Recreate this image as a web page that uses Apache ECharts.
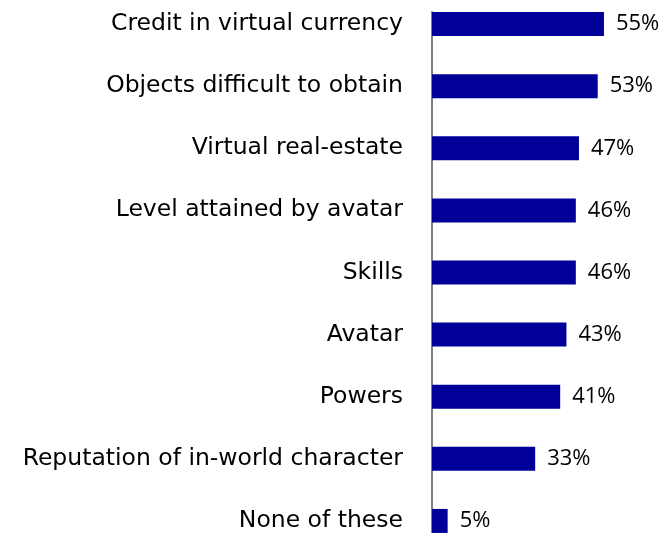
<!DOCTYPE html>
<html>
<head>
<meta charset="utf-8">
<script src="https://cdn.jsdelivr.net/npm/echarts@6/dist/echarts.min.js"></script>
<style>html,body{margin:0;padding:0;background:#fff}#c{width:668px;height:533px}</style>
</head>
<body>
<div id="c"></div>
<script>
var categories = [
  "Credit in virtual currency",
  "Objects difficult to obtain",
  "Virtual real-estate",
  "Level attained by avatar",
  "Skills",
  "Avatar",
  "Powers",
  "Reputation of in-world character",
  "None of these"
];
var values = [55, 53, 47, 46, 46, 43, 41, 33, 5];

var chart = echarts.init(document.getElementById('c'), null, {renderer: 'canvas'});
chart.setOption({
  animation: false,
  grid: [
    {left: 432, top: -7, height: 559, width: 187.6, containLabel: false, outerBoundsMode: 'none'},
    {left: 432, top: 12, bottom: 0, width: 10, outerBoundsMode: 'none'}
  ],
  xAxis: [
    {type: 'value', min: 0, max: 60, show: false, gridIndex: 0},
    {type: 'value', min: 0, max: 1, show: false, gridIndex: 1}
  ],
  yAxis: [
    {
      type: 'category', data: categories, inverse: true, gridIndex: 0,
      axisLine: {show: false}, axisTick: {show: false}, splitLine: {show: false},
      axisLabel: {margin: 29, color: '#000', fontSize: 23.5, fontFamily: 'DejaVu Sans'}
    },
    {
      type: 'value', gridIndex: 1, min: 0, max: 1,
      axisLine: {show: true, lineStyle: {color: '#808080', width: 2}},
      axisTick: {show: false}, axisLabel: {show: false}, splitLine: {show: false}
    }
  ],
  series: [{
    type: 'bar', data: values, xAxisIndex: 0, yAxisIndex: 0,
    barWidth: 24,
    itemStyle: {color: '#000099'},
    label: {show: true, position: 'right', distance: 12, formatter: '{c}%', color: '#000', fontSize: 22, fontFamily: 'Open Sans'}
  }]
});
</script>
</body>
</html>
